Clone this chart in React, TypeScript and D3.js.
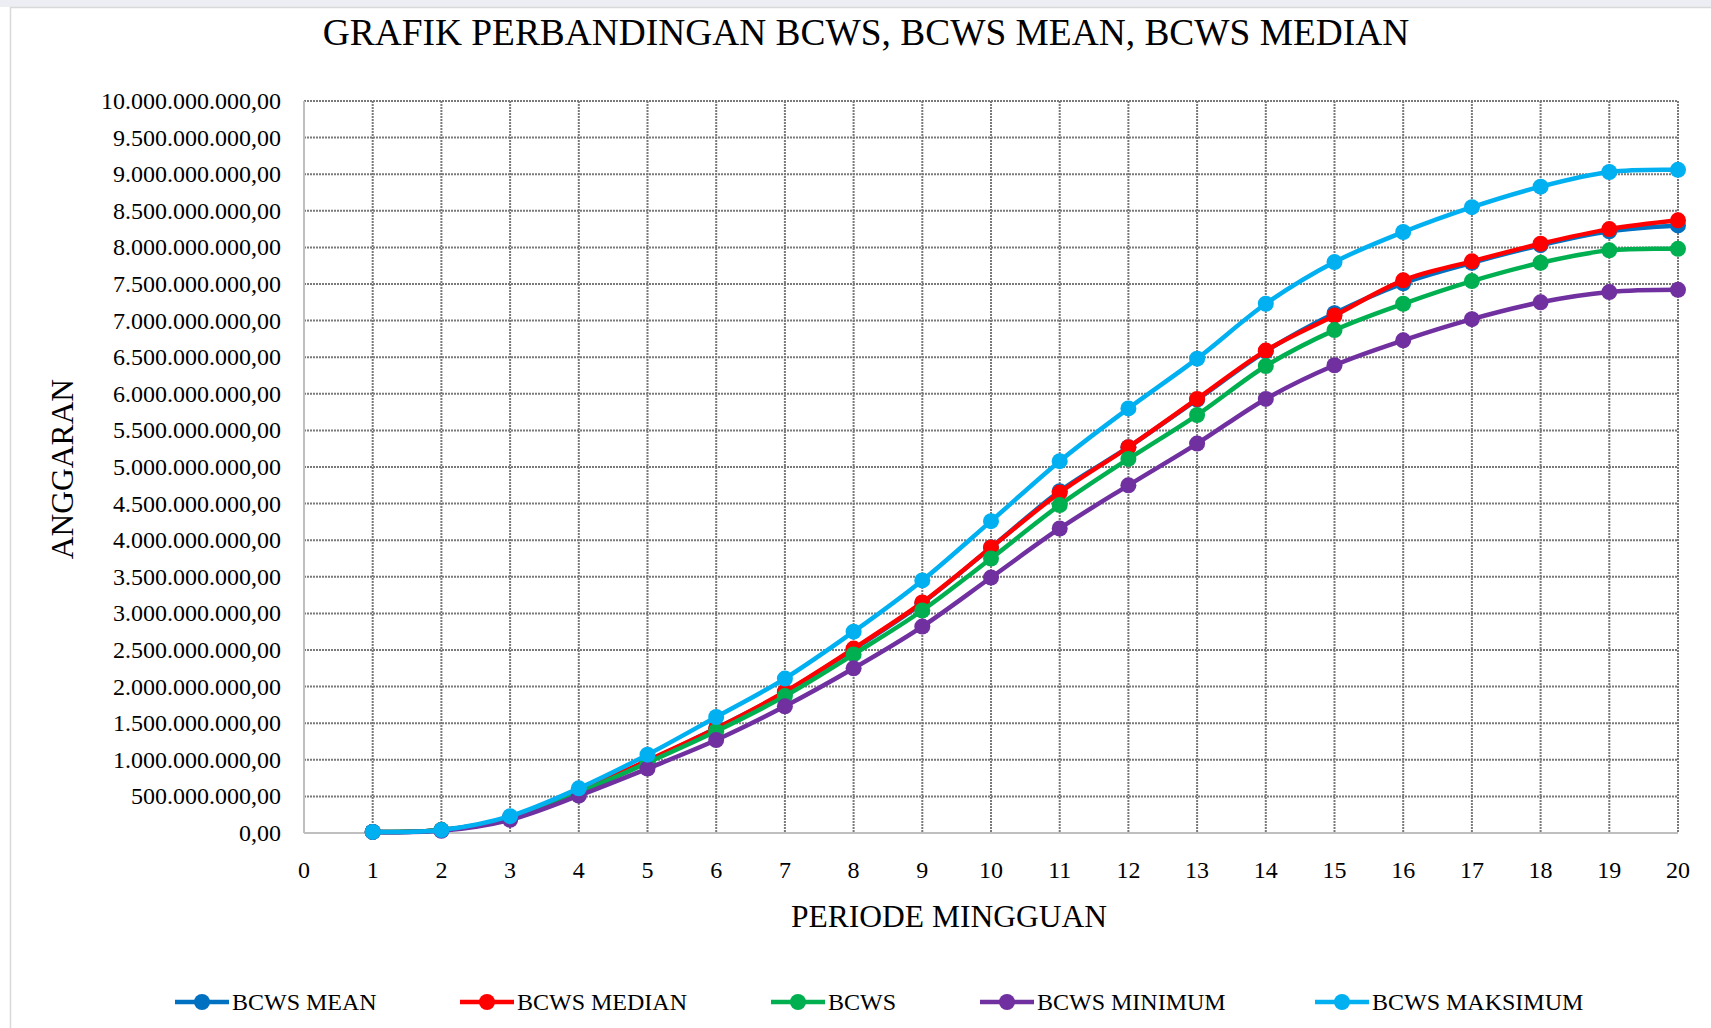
import React from "react";
import * as d3 from "d3";

const periods = [1, 2, 3, 4, 5, 6, 7, 8, 9, 10, 11, 12, 13, 14, 15, 16, 17, 18, 19, 20];
const xTicks = [0, 1, 2, 3, 4, 5, 6, 7, 8, 9, 10, 11, 12, 13, 14, 15, 16, 17, 18, 19, 20];
const yTicks = d3.range(0, 10000000001, 500000000);

const B = 1e9;
const bcwsMean = [0.015, 0.04, 0.21, 0.57, 0.98, 1.43, 1.92, 2.51, 3.14, 3.9, 4.67, 5.27, 5.92, 6.58, 7.1, 7.51, 7.79, 8.03, 8.22, 8.3].map((v) => v * B);
const bcwsMedian = [0.015, 0.04, 0.21, 0.57, 0.99, 1.43, 1.93, 2.52, 3.15, 3.9, 4.65, 5.27, 5.93, 6.59, 7.07, 7.55, 7.81, 8.05, 8.25, 8.37].map((v) => v * B);
const bcws = [0.015, 0.04, 0.2, 0.55, 0.96, 1.39, 1.87, 2.44, 3.04, 3.75, 4.48, 5.11, 5.71, 6.38, 6.87, 7.23, 7.54, 7.79, 7.96, 7.98].map((v) => v * B);
const bcwsMin = [0.015, 0.03, 0.18, 0.51, 0.88, 1.27, 1.73, 2.25, 2.82, 3.49, 4.16, 4.75, 5.32, 5.93, 6.39, 6.73, 7.02, 7.25, 7.39, 7.42].map((v) => v * B);
const bcwsMax = [0.015, 0.04, 0.23, 0.61, 1.07, 1.585, 2.11, 2.75, 3.45, 4.26, 5.08, 5.8, 6.48, 7.23, 7.8, 8.21, 8.55, 8.83, 9.03, 9.06].map((v) => v * B);

const seriesNames = ["BCWS MEAN", "BCWS MEDIAN", "BCWS", "BCWS MINIMUM", "BCWS MAKSIMUM"];
const seriesValues = [bcwsMean, bcwsMedian, bcws, bcwsMin, bcwsMax];
const seriesColors = ["#0070C0", "#FF0000", "#00B050", "#7030A0", "#00B0F0"];
const legendX = [175, 460, 771, 980, 1315];

const W = 1711;
const H = 1028;
const plot = { left: 304, right: 1678, top: 101, bottom: 833 };
const FONT = "'Liberation Serif', 'Times New Roman', serif";

const idLocale = d3.formatLocale({ decimal: ",", thousands: ".", grouping: [3], currency: ["", ""] });
const fmt = idLocale.format(",.2f");

export default function App() {
  const x = d3.scaleLinear().domain([0, 20]).range([plot.left, plot.right]);
  const y = d3.scaleLinear().domain([0, 10000000000]).range([plot.bottom, plot.top]);
  const line = d3
    .line<number>()
    .x((_, i) => x(periods[i]))
    .y((d) => y(d))
    .curve(d3.curveCatmullRom.alpha(0));

  return (
    <div style={{ position: "absolute", left: 0, top: 0 }}>
      <svg width={W} height={H} style={{ display: "block", background: "#fff" }}>
        <rect x={0} y={0} width={W} height={7} fill="#eceef3" />
        <rect x={10.5} y={7.5} width={W + 20} height={H + 20} fill="#fff" stroke="#d9d9d9" strokeWidth={1.5} />

        <text x={866} y={45} textAnchor="middle" fontFamily={FONT} fontSize={37.4} fill="#000">
          GRAFIK PERBANDINGAN BCWS, BCWS MEAN, BCWS MEDIAN
        </text>

        {/* horizontal gridlines */}
        {yTicks.slice(1).map((t) => (
          <line key={"hy" + t} x1={plot.left} x2={plot.right} y1={y(t)} y2={y(t)} stroke="#7a7a7a" strokeWidth={2} strokeDasharray="2 1" />
        ))}
        {/* vertical gridlines */}
        {xTicks.slice(1).map((t) => (
          <line key={"vx" + t} x1={x(t)} x2={x(t)} y1={plot.top} y2={plot.bottom} stroke="#7a7a7a" strokeWidth={2} strokeDasharray="2 1" />
        ))}
        {/* axes */}
        <line x1={plot.left} x2={plot.left} y1={plot.top} y2={plot.bottom} stroke="#bfbfbf" strokeWidth={2} />
        <line x1={plot.left} x2={plot.right} y1={plot.bottom} y2={plot.bottom} stroke="#bfbfbf" strokeWidth={2} />

        {/* y tick labels */}
        {yTicks.map((t) => (
          <text key={"yl" + t} x={281} y={y(t) + 8} textAnchor="end" fontFamily={FONT} fontSize={24} fill="#000">
            {fmt(t)}
          </text>
        ))}
        {/* x tick labels */}
        {xTicks.map((t) => (
          <text key={"xl" + t} x={x(t)} y={878} textAnchor="middle" fontFamily={FONT} fontSize={24} fill="#000">
            {t}
          </text>
        ))}

        <text x={949} y={927} textAnchor="middle" fontFamily={FONT} fontSize={31.5} fill="#000">
          PERIODE MINGGUAN
        </text>
        <text
          transform={`translate(${73},${469}) rotate(-90)`}
          textAnchor="middle"
          fontFamily={FONT}
          fontSize={31.5}
          fill="#000"
        >
          ANGGARAN
        </text>

        {/* series */}
        {seriesValues.map((vals, si) => (
          <g key={"s" + si}>
            <path d={line(vals) || ""} fill="none" stroke={seriesColors[si]} strokeWidth={4.5} strokeLinejoin="round" />
            {vals.map((v, i) => (
              <circle key={i} cx={x(periods[i])} cy={y(v)} r={8} fill={seriesColors[si]} />
            ))}
          </g>
        ))}

        {/* legend */}
        {seriesNames.map((name, si) => (
          <g key={"lg" + si}>
            <line x1={legendX[si]} x2={legendX[si] + 54} y1={1002} y2={1002} stroke={seriesColors[si]} strokeWidth={4.5} />
            <circle cx={legendX[si] + 27} cy={1002} r={8} fill={seriesColors[si]} />
            <text x={legendX[si] + 57} y={1010} fontFamily={FONT} fontSize={24} fill="#000">
              {name}
            </text>
          </g>
        ))}
      </svg>
    </div>
  );
}
